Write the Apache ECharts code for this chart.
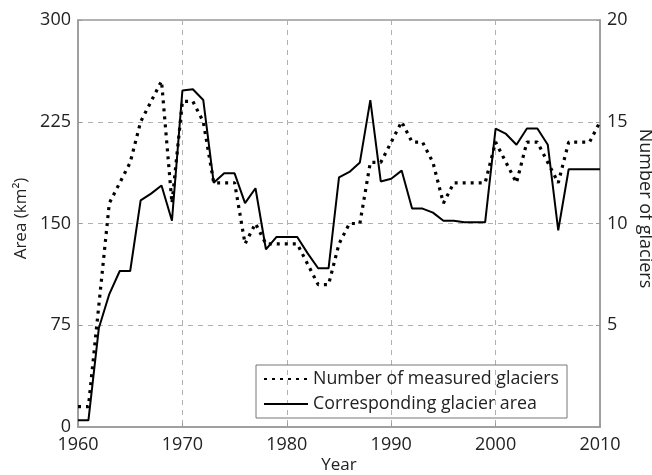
<!DOCTYPE html>
<html>
<head>
<meta charset="utf-8">
<script src="https://cdn.jsdelivr.net/npm/echarts@6/dist/echarts.min.js"></script>
<style>
  html, body { margin: 0; padding: 0; background: #fff; }
  #main { width: 652px; height: 475px; }
</style>
</head>
<body>
<div id="main"></div>
<script>
// year axis
const years = [];
for (let y = 1960; y <= 2010; y++) years.push(y);

// number of measured glaciers (right axis)
const glacierCount = [
  1, 1, 6, 11, 12, 13, 15, 16, 17, 11,
  16, 16, 15, 12, 12, 12, 9, 10, 9, 9,
  9, 9, 8, 7, 7, 9, 10, 10, 13, 13,
  14, 15, 14, 14, 13, 11, 12, 12, 12, 12,
  14, 13, 12, 14, 14, 13, 12, 14, 14, 14,
  15
];

// corresponding glacier area, km2 (left axis)
const glacierArea = [
  5, 5, 73, 98, 115, 115, 167, 172, 178, 152,
  248, 249, 241, 180, 187, 187, 165, 176, 131, 140,
  140, 140, 128, 117, 117, 184, 188, 195, 241, 181,
  183, 189, 161, 161, 158, 152, 152, 151, 151, 151,
  220, 216, 208, 220, 220, 208, 145, 190, 190, 190,
  190
];

const leftTicks = [0, 75, 150, 225, 300];
const rightTicks = [0, 5, 10, 15, 20];

const countData = years.map((y, i) => [y, glacierCount[i]]);
const areaData = years.map((y, i) => [y, glacierArea[i]]);

const font = 'Open Sans';
const frame = '#9a9a9a';
const gridDash = { color: '#b0b0b0', type: [5, 5], width: 1 };

const chart = echarts.init(document.getElementById('main'));
chart.setOption({
  animation: false,
  textStyle: { fontFamily: font, color: '#222' },
  grid: {
    left: 78, right: 52, top: 20, bottom: 48,
    outerBoundsMode: 'none',
    show: true, borderColor: frame, borderWidth: 1.5
  },
  legend: {
    orient: 'vertical',
    left: 256, top: 365,
    itemWidth: 44, itemHeight: 14, itemGap: 7,
    padding: [5, 8, 5, 7],
    borderColor: '#777', borderWidth: 1,
    itemStyle: { opacity: 0 },
    textStyle: { fontFamily: font, fontSize: 17.8, color: '#222' },
    data: ['Number of measured glaciers', 'Corresponding glacier area']
  },
  xAxis: {
    type: 'value',
    min: 1960, max: 2010, interval: 10,
    name: 'Year', nameLocation: 'middle', nameGap: 30, nameMoveOverlap: false,
    nameTextStyle: { fontFamily: font, fontSize: 17, color: '#222' },
    axisLine: { lineStyle: { color: frame, width: 1.5 } },
    axisTick: { inside: true, length: 4, lineStyle: { color: frame } },
    axisLabel: { fontSize: 18, color: '#222', margin: 9, formatter: v => String(v) },
    splitLine: { show: true, lineStyle: gridDash }
  },
  yAxis: [
    {
      type: 'value',
      min: leftTicks[0], max: leftTicks[leftTicks.length - 1], interval: 75,
      name: 'Area (km²)', nameLocation: 'middle', nameGap: 48, nameMoveOverlap: false,
      nameTextStyle: { fontFamily: font, fontSize: 17, color: '#222', padding: [0, 0, 0, 10] },
      axisLine: { show: true, lineStyle: { color: frame, width: 1.5 } },
      axisTick: { show: true, inside: true, length: 4, lineStyle: { color: frame } },
      axisLabel: { fontSize: 18, color: '#222', margin: 7 },
      splitLine: { show: true, lineStyle: gridDash }
    },
    {
      type: 'value',
      min: rightTicks[0], max: rightTicks[rightTicks.length - 1], interval: 5,
      position: 'right',
      name: 'Number of glaciers', nameLocation: 'middle', nameGap: 36, nameRotate: -90,
      nameMoveOverlap: false,
      nameTextStyle: { fontFamily: font, fontSize: 18, color: '#222', padding: [0, 30, 0, 0] },
      axisLine: { show: true, lineStyle: { color: frame, width: 1.5 } },
      axisTick: { show: true, inside: true, length: 4, lineStyle: { color: frame } },
      axisLabel: {
        fontSize: 18, color: '#222', margin: 7,
        formatter: v => (v === 0 ? '' : String(v))
      },
      splitLine: { show: false }
    }
  ],
  series: [
    {
      name: 'Number of measured glaciers',
      type: 'line',
      yAxisIndex: 1,
      data: countData,
      symbol: 'none',
      lineStyle: { color: '#000', width: 3.2, type: [3, 5], cap: 'butt' },
      itemStyle: { color: '#000' },
      z: 3
    },
    {
      name: 'Corresponding glacier area',
      type: 'line',
      yAxisIndex: 0,
      data: areaData,
      symbol: 'none',
      lineStyle: { color: '#000', width: 2 },
      itemStyle: { color: '#000' },
      z: 4
    }
  ]
});
</script>
</body>
</html>
